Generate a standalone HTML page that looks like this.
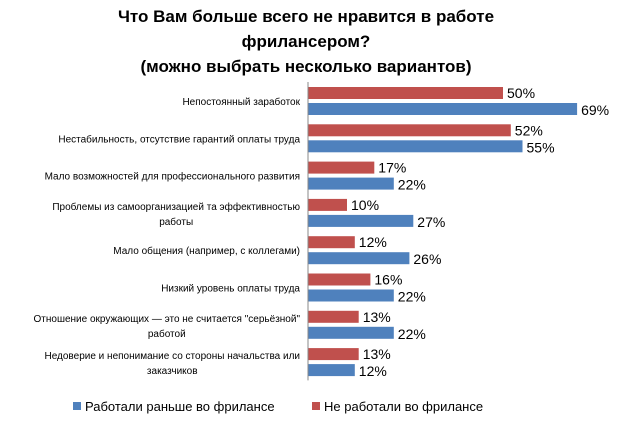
<!DOCTYPE html>
<html><head><meta charset="utf-8"><style>
body{margin:0;background:#fff;width:618px;height:420px;overflow:hidden;font-family:"Liberation Sans",sans-serif}
</style></head><body>
<svg width="618" height="420" xmlns="http://www.w3.org/2000/svg">
<g font-weight="bold" font-size="17" text-anchor="middle" fill="#000">
<text x="306" y="22">Что Вам больше всего не нравится в работе</text>
<text x="306" y="47">фрилансером?</text>
<text x="306" y="72">(можно выбрать несколько вариантов)</text>
</g>
<g id="plot"></g>
<g font-size="13" fill="#000">
<rect x="73" y="402" width="8" height="8" fill="#4f81bd"/>
<text x="85" y="411">Работали раньше во фрилансе</text>
<rect x="312" y="402" width="8" height="8" fill="#c0504d"/>
<text x="324" y="411">Не работали во фрилансе</text>
</g>
</svg>
<script>
const categories=[["Непостоянный заработок"],["Нестабильность, отсутствие гарантий оплаты труда"],["Мало возможностей для профессионального развития"],["Проблемы из самоорганизацией та эффективностью","работы"],["Мало общения (например, с коллегами)"],["Низкий уровень оплаты труда"],["Отношение окружающих — это не считается \"серьёзной\"","работой"],["Недоверие и непонимание со стороны начальства или","заказчиков"]];
const notWorked=[50,52,17,10,12,16,13,13];
const worked=[69,55,22,27,26,22,22,12];
const NS="http://www.w3.org/2000/svg";
const plotG=document.getElementById('plot');
const x0=308,pxPer=3.9,plotTop=82,band=37.3;
function xs(v){return x0+v*pxPer;}
function mk(t,a){const e=document.createElementNS(NS,t);for(const k in a)e.setAttribute(k,a[k]);plotG.appendChild(e);return e;}
categories.forEach((c,i)=>{
  const y=plotTop+band*i+5;
  const r=mk('rect',{x:x0,y:y,width:xs(notWorked[i])-x0,height:12,fill:'#c0504d'});
  
  
  const b=mk('rect',{x:x0,y:y+16,width:xs(worked[i])-x0,height:12,fill:'#4f81bd'});
  
  
  const t1=mk('text',{x:xs(notWorked[i])+4,y:y+11,'font-size':14,fill:'#000'});
  t1.textContent=notWorked[i]+'%';
  
  
  const t2=mk('text',{x:xs(worked[i])+4,y:y+28,'font-size':14,fill:'#000'});
  t2.textContent=worked[i]+'%';
  
  
  const cy=y+14;
  if(c.length==1){
    const tl=mk('text',{x:300,y:cy+4,'font-size':10,'text-anchor':'end',fill:'#000'});
    tl.textContent=c[0];
    
    
  }else{
    const tl=mk('text',{x:300,y:cy-3,'font-size':10,'text-anchor':'end',fill:'#000'});
    tl.textContent=c[0];
    
    
    let w=250;
    try{w=tl.getComputedTextLength();}catch(e){}
    const t3=mk('text',{x:300-w/2,y:cy+12,'font-size':10,'text-anchor':'middle',fill:'#000'});
    t3.textContent=c[1];
    
    
  }
});
const ax=mk('line',{x1:x0,y1:plotTop,x2:x0,y2:plotTop+band*8,stroke:'#888','stroke-width':1});


</script>
</body></html>
